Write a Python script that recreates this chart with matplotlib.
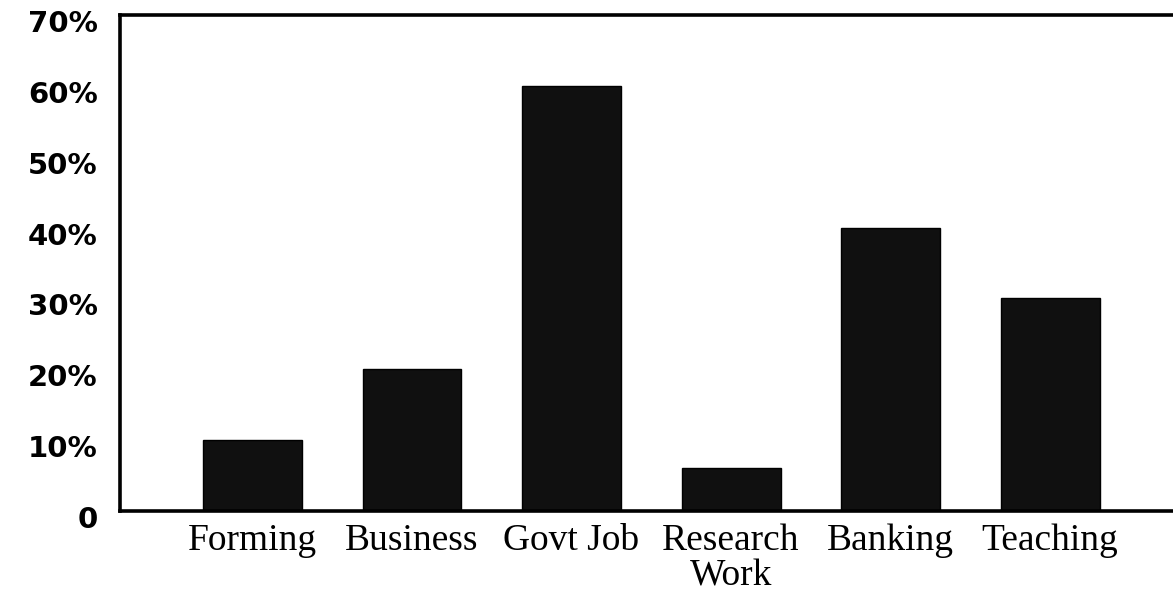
import matplotlib.pyplot as plt
import matplotlib.transforms as mtransforms

careers = ['Forming', 'Business', 'Govt Job', 'Research\nWork', 'Banking', 'Teaching']
shares = [10, 20, 60, 6, 40, 30]
yticks = [0, 10, 20, 30, 40, 50, 60, 70]
ytick_labels = ['0', '10%', '20%', '30%', '40%', '50%', '60%', '70%']

fig = plt.figure(figsize=(11.73, 5.94), dpi=100)
ax = fig.add_axes([120 / 1173, 1 - 511 / 594, 1 - 120 / 1173, 496 / 594])

x = list(range(len(careers)))
ax.bar(x, shares, width=0.62, color='#101010', edgecolor='#000000', linewidth=1)

ax.set_xlim(-0.83, 5.77)
ax.set_ylim(0, 70)

ax.set_xticks(x)
ax.set_xticklabels(careers, fontsize=27, family='Liberation Serif', linespacing=1.02)
ax.set_yticks(yticks)
ax.set_yticklabels(ytick_labels, fontsize=21, fontweight='bold', family='DejaVu Sans')
ax.tick_params(axis='x', length=0, pad=9)
ax.tick_params(axis='y', length=0, pad=16)

# the printed labels sit a bit lower than the grid values
shift = mtransforms.ScaledTranslation(0, -6 / 100, fig.dpi_scale_trans)
for lab in ax.get_yticklabels():
    lab.set_transform(lab.get_transform() + shift)

ax.spines['right'].set_visible(False)
for side in ['left', 'top', 'bottom']:
    ax.spines[side].set_linewidth(2.6)
    ax.spines[side].set_color('#000000')

plt.savefig('out.png', dpi=100)
